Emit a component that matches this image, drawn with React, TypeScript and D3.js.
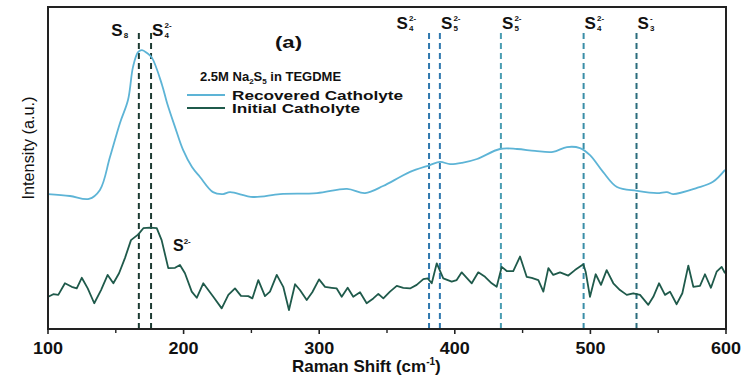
import React from "react";
import * as d3 from "d3";

// ---- Data ----
const recoveredX = [100, 116.2, 130.2, 138.3, 145.7, 153.1, 159.0, 162.7, 166.4, 169.3, 173.0, 176.7, 184.1, 187.8, 193.7, 199.6, 206.2, 212.1, 221.7, 229.1, 234.2, 251.2, 271.1, 298.4, 320.5, 333.8, 347.1, 359.6, 367.0, 381.7, 389.1, 396.5, 405.3, 416.4, 433.3, 445.9, 459.1, 472.4, 482.7, 492.3, 499.7, 509.3, 519.6, 534.4, 549.1, 556.5, 560.9, 578.6, 590.4, 599.3];
const recoveredY = [41.9, 41.3, 40.4, 43.2, 53.4, 64.0, 71.1, 81.4, 86.0, 86.6, 85.7, 84.2, 75.8, 70.2, 62.7, 55.6, 50.3, 47.2, 42.5, 41.9, 42.5, 41.0, 41.9, 42.2, 43.5, 42.2, 44.4, 47.2, 48.8, 50.9, 51.9, 51.2, 51.6, 52.8, 55.9, 55.9, 55.3, 55.0, 56.5, 56.2, 54.0, 48.8, 44.1, 42.9, 42.2, 42.5, 41.9, 43.8, 45.7, 49.4];

const initialX = [100.2, 103.9, 107.6, 112.5, 117.5, 121.2, 124.9, 129.3, 134.1, 139.1, 144.0, 148.2, 152.4, 156.8, 161.2, 166.6, 170.3, 175.2, 180.2, 183.8, 188.7, 193.7, 197.3, 201.0, 206.0, 209.7, 214.5, 218.2, 221.9, 228.1, 233.0, 237.9, 242.3, 247.7, 250.7, 255.1, 260.0, 263.7, 268.7, 273.5, 277.7, 282.2, 285.8, 290.8, 294.9, 299.9, 304.3, 309.2, 312.9, 316.6, 321.0, 325.1, 330.1, 335.0, 339.9, 343.6, 347.3, 352.2, 357.2, 362.0, 367.0, 371.9, 376.8, 380.0, 383.0, 386.7, 391.5, 397.7, 401.4, 405.1, 412.5, 417.3, 422.3, 427.2, 430.9, 434.6, 438.3, 443.1, 448.1, 453.0, 456.7, 461.6, 465.3, 469.0, 472.6, 477.6, 483.7, 488.6, 494.8, 496.5, 499.7, 503.9, 507.8, 512.0, 516.9, 521.8, 526.8, 531.6, 536.6, 542.7, 546.4, 550.6, 555.0, 558.7, 563.6, 567.8, 572.2, 575.9, 580.8, 584.5, 588.9, 593.1, 596.8, 599.3];
const initialY = [10.0, 10.8, 10.6, 14.2, 13.1, 12.6, 15.9, 12.6, 8.0, 12.1, 16.8, 14.2, 17.3, 22.1, 27.6, 29.4, 31.3, 31.5, 31.3, 27.6, 18.9, 19.0, 19.9, 17.3, 11.6, 9.7, 14.2, 12.1, 10.0, 6.4, 10.6, 12.6, 10.3, 10.2, 9.5, 15.2, 10.2, 11.6, 16.8, 13.1, 5.9, 13.9, 12.1, 9.0, 11.4, 15.4, 13.1, 12.8, 12.6, 10.0, 12.8, 10.0, 11.4, 8.0, 9.5, 10.9, 9.5, 11.6, 13.4, 12.8, 12.6, 13.7, 15.5, 15.7, 14.2, 20.4, 15.7, 14.7, 15.2, 17.6, 14.2, 17.6, 16.2, 14.2, 13.1, 19.3, 18.0, 18.0, 22.5, 16.2, 15.9, 15.2, 11.6, 18.9, 16.8, 17.6, 16.6, 18.3, 20.1, 17.8, 10.0, 17.0, 13.7, 18.3, 14.2, 12.1, 10.6, 11.1, 10.6, 7.5, 10.0, 14.2, 10.6, 11.6, 7.7, 11.1, 19.7, 13.1, 13.4, 17.0, 12.8, 17.8, 19.3, 17.3];

const peakPositions = [167, 176, 381, 389, 434, 495, 534];
const peakSub = ["8", "4", "4", "5", "5", "4", "3"];
const peakSup = ["", "2-", "2-", "2-", "2-", "2-", "-"];
const peakColors = ["#1d3b33", "#1d3b33", "#2f78ae", "#2f78ae", "#4a9db2", "#3a8ea8", "#2a6c7c"];
const peakAnchor = ["end", "start", "end", "start", "start", "start", "start"];

const xTicksMajor = [100, 200, 300, 400, 500, 600];
const xTicksMinor = [150, 250, 350, 450, 550];

const seriesNames = ["Recovered Catholyte", "Initial Catholyte"];
const seriesColors = ["#5db4d6", "#1f5a4b"];

export default function App() {
  const W = 756, H = 377;
  const x = d3.scaleLinear().domain([100, 600]).range([48, 726]);
  const y = d3.scaleLinear().domain([0, 100]).range([329, 7]);
  const lineSmooth = d3.line<number>().x((_, i) => x(recoveredX[i])).y((d) => y(d)).curve(d3.curveCatmullRom);
  const lineRaw = d3.line<number>().x((_, i) => x(initialX[i])).y((d) => y(d));
  const font = "Arial, 'Liberation Sans', sans-serif";

  const peakLabel = (i: number) => {
    const px = x(peakPositions[i]);
    const isLeft = i < 2;
    const yb = isLeft ? 36 : 29;
    const hasSup = peakSup[i] !== "";
    const sw = 12.5;
    const scriptW = hasSup ? 11 : 6;
    const totalW = sw + scriptW;
    const start = peakAnchor[i] === "end" ? px - totalW - 9 : px + 1;
    return (
      <g key={"pl" + i} fontFamily={font} fontWeight="bold" fill="#111">
        <text x={start} y={yb} fontSize={17}>S</text>
        <text x={start + sw} y={yb + 2} fontSize={8}>{peakSub[i]}</text>
        {hasSup && <text x={start + sw} y={yb - 8} fontSize={8}>{peakSup[i]}</text>}
      </g>
    );
  };

  return (
    <svg width={W} height={H} style={{ position: "absolute", left: 0, top: 0, background: "#fff" }}>
      <rect x={0} y={0} width={W} height={H} fill="#fff" />
      {/* dashed peak lines */}
      {peakPositions.map((p, i) => (
        <line key={"pk" + i} x1={x(p)} x2={x(p)} y1={33} y2={329} stroke={peakColors[i]} strokeWidth={2} strokeDasharray="6,4" />
      ))}
      {/* curves */}
      <path d={lineSmooth(recoveredY) || ""} fill="none" stroke={seriesColors[0]} strokeWidth={1.8} />
      <path d={lineRaw(initialY) || ""} fill="none" stroke={seriesColors[1]} strokeWidth={1.8} strokeLinejoin="round" />
      {/* frame */}
      <rect x={48} y={7} width={678} height={322} fill="none" stroke="#222" strokeWidth={2} />
      {/* ticks */}
      {xTicksMajor.map((t) => (
        <g key={"t" + t}>
          <line x1={x(t)} x2={x(t)} y1={329} y2={334} stroke="#222" strokeWidth={1.6} />
          <text x={x(t)} y={354} textAnchor="middle" fontFamily={font} fontWeight="bold" fontSize={16} fill="#111" textLength={30} lengthAdjust="spacingAndGlyphs">{t}</text>
        </g>
      ))}
      {xTicksMinor.map((t) => (
        <line key={"m" + t} x1={x(t)} x2={x(t)} y1={329} y2={333} stroke="#222" strokeWidth={1.4} />
      ))}
      {/* axis titles */}
      <text x={292} y={372} fontFamily={font} fontWeight="bold" fontSize={17} fill="#111">
        Raman Shift (cm<tspan dy={-7} fontSize={10}>-1</tspan><tspan dy={7}>)</tspan>
      </text>
      <text transform="translate(34,148) rotate(-90)" textAnchor="middle" fontFamily="'Liberation Sans Narrow', Arial, sans-serif" fontSize={16} fill="#111" textLength={103} lengthAdjust="spacingAndGlyphs">Intensity (a.u.)</text>
      {/* peak labels */}
      {peakPositions.map((_, i) => peakLabel(i))}
      <text x={275} y={48} fontFamily={font} fontWeight="bold" fontSize={16} fill="#111" textLength={27} lengthAdjust="spacingAndGlyphs">(a)</text>
      <text x={200} y={81} fontFamily={font} fontWeight="bold" fontSize={13} fill="#111">
        2.5M Na<tspan dy={3} fontSize={8}>2</tspan><tspan dy={-3}>S</tspan><tspan dy={3} fontSize={8}>5</tspan><tspan dy={-3}> in TEGDME</tspan>
      </text>
      {seriesNames.map((n, i) => (
        <g key={"lg" + i}>
          <line x1={187} x2={225} y1={95 + i * 13} y2={95 + i * 13} stroke={seriesColors[i]} strokeWidth={2} />
          <text x={232} y={99.5 + i * 13} fontFamily={font} fontWeight="bold" fontSize={12} fill="#111" textLength={i === 0 ? 171 : 128} lengthAdjust="spacingAndGlyphs">{n}</text>
        </g>
      ))}
      <text x={173} y={251} fontFamily={font} fontWeight="bold" fontSize={16} fill="#111">S<tspan dy={-7} fontSize={8}>2-</tspan></text>
    </svg>
  );
}
